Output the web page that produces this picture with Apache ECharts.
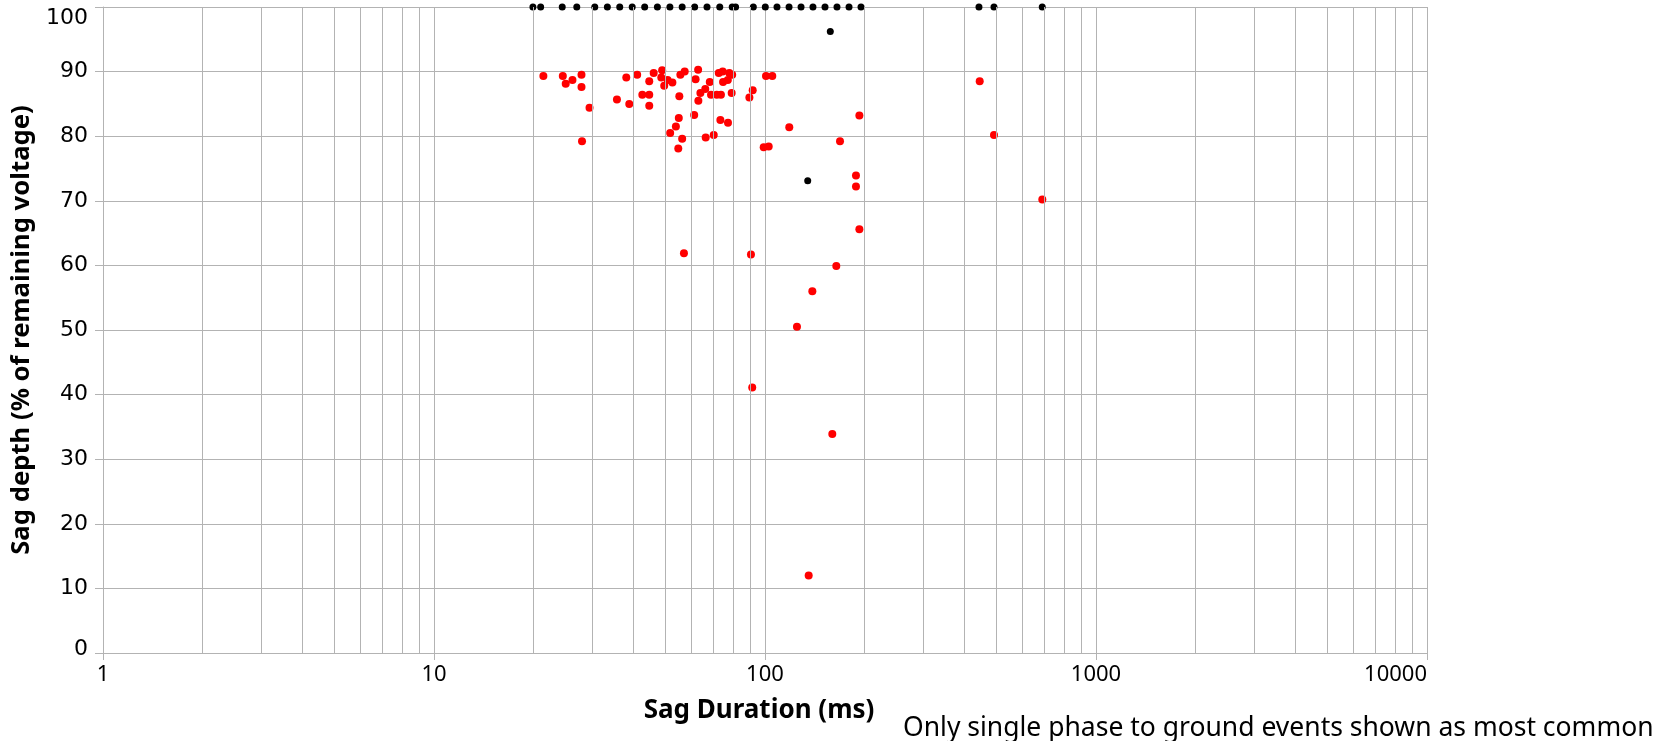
<!DOCTYPE html>
<html>
<head>
<meta charset="utf-8">
<script src="https://cdn.jsdelivr.net/npm/echarts/dist/echarts.min.js"></script>
<style>
  html, body { margin: 0; padding: 0; background: #fff; }
  #chart { width: 1675px; height: 741px; }
</style>
</head>
<body>
<div id="chart"></div>
<script>
// ---- Data ----
// Red events: sag duration (ms) and sag depth (% remaining voltage)
const redDuration = [
  21.4, 24.5, 25.0, 26.2, 27.9, 27.9, 29.5, 28.0, 35.7, 38.1,
  38.9, 41.1, 42.6, 44.7, 44.7, 44.7, 46.1, 48.9, 48.6, 49.6,
  50.8, 52.5, 55.1, 55.5, 57.2, 54.9, 53.8, 51.7, 56.2, 54.7,
  62.8, 61.7, 68.1, 66.0, 63.8, 62.9, 61.1, 66.2, 70.0, 72.5,
  74.5, 78.0, 79.6, 77.2, 74.7, 68.7, 71.5, 73.6, 79.3, 73.3,
  77.3, 91.8, 89.7, 100.7, 105.2, 118.4, 99.1, 102.6, 168.5, 192.8,
  445.3, 491.8, 688.3, 188.3, 188.3, 192.8, 56.9, 90.7, 164.2, 139.0,
  124.9, 91.5, 159.7, 135.5
];
const redDepth = [
  89.3, 89.3, 88.1, 88.7, 89.5, 87.6, 84.4, 79.2, 85.7, 89.1,
  85.0, 89.5, 86.4, 86.4, 88.5, 84.7, 89.8, 90.2, 89.1, 87.8,
  88.7, 88.3, 86.2, 89.5, 90.0, 82.8, 81.5, 80.5, 79.6, 78.1,
  90.3, 88.8, 88.4, 87.3, 86.7, 85.5, 83.3, 79.8, 80.2, 89.8,
  90.0, 89.8, 89.5, 88.7, 88.4, 86.4, 86.4, 86.4, 86.7, 82.5,
  82.1, 87.1, 86.0, 89.3, 89.3, 81.4, 78.3, 78.4, 79.2, 83.2,
  88.5, 80.2, 70.2, 73.9, 72.2, 65.6, 61.9, 61.7, 59.9, 56.0,
  50.5, 41.1, 33.9, 12.0
];
// Black events
const blackDuration = [
  19.9, 21.0, 24.4, 27.0, 30.6, 33.4, 36.4, 39.7, 43.3, 47.3,
  51.6, 56.2, 61.3, 66.8, 73.0, 79.6, 81.5, 92.2, 100.2, 108.7,
  118.2, 128.5, 139.6, 151.8, 165.0, 179.4, 195.0, 443, 491.8, 688,
  157.5, 134.6
];
const blackDepth = [
  100, 100, 100, 100, 100, 100, 100, 100, 100, 100,
  100, 100, 100, 100, 100, 100, 100, 100, 100, 100,
  100, 100, 100, 100, 100, 100, 100, 100, 100, 100,
  96.2, 73.1
];
// Axis ticks
const xMin = 1, xMax = 10000;
const yMin = 0, yMax = 100, yStep = 10;
const xMinorGrid = [2,3,4,5,6,7,8,9, 20,30,40,50,60,70,80,90,
                    200,300,400,500,600,700,800,900,
                    2000,3000,4000,5000,6000,7000,8000,9000];
const xTitle = 'Sag Duration (ms)';
const yTitle = 'Sag depth (% of remaining voltage)';
const footnote = 'Only single phase to ground events shown as most common';

// ---- Build ----
const redData = redDuration.map((d, i) => [d, redDepth[i]]);
const blackData = blackDuration.map((d, i) => [d, blackDepth[i]]);
const gridColor = '#b3b3b3';

const chart = echarts.init(document.getElementById('chart'), null, { renderer: 'canvas' });
chart.setOption({
  animation: false,
  backgroundColor: '#ffffff',
  title: {
    text: footnote,
    left: 903,
    top: 715,
    textStyle: { fontFamily: 'Noto Sans', fontSize: 26.5, fontWeight: 'normal', color: '#000' },
    padding: 0
  },
  grid: { left: 103, right: 248, top: 7, bottom: 88, containLabel: false },
  xAxis: {
    type: 'log',
    logBase: 10,
    min: xMin,
    max: xMax,
    name: xTitle,
    nameLocation: 'middle',
    nameGap: 45,
    nameTextStyle: { fontFamily: 'Noto Sans', fontSize: 26, fontWeight: 'bold', color: '#000', padding: [0, 12, 0, 0] },
    axisLine: { show: true, lineStyle: { color: gridColor, width: 1 } },
    axisTick: { show: true, length: 7, lineStyle: { color: gridColor } },
    axisLabel: {
      fontFamily: 'Noto Sans', fontSize: 22, color: '#000', margin: 11,
      alignMaxLabel: 'right',
      formatter: function (v) { return String(v); }
    },
    splitLine: { show: true, lineStyle: { color: gridColor, width: 1 } },
    minorTick: { show: false },
    minorSplitLine: { show: false }
  },
  yAxis: {
    type: 'value',
    min: yMin,
    max: yMax,
    interval: yStep,
    name: yTitle,
    nameLocation: 'middle',
    nameRotate: 90,
    nameGap: 65,
    nameTextStyle: { fontFamily: 'Noto Sans', fontSize: 25.7, fontWeight: 'bold', color: '#000' },
    axisLine: { show: true, lineStyle: { color: gridColor, width: 1 } },
    axisTick: { show: true, length: 8, lineStyle: { color: gridColor } },
    axisLabel: {
      fontFamily: 'DejaVu Sans', fontSize: 22, color: '#000', margin: 15,
      formatter: function (v) { return v === yMax ? '{t|' + v + '}' : (v === yMin ? '{b|' + v + '}' : String(v)); },
      rich: {
        t: { fontFamily: 'DejaVu Sans', fontSize: 22, color: '#000', padding: [22, 0, 0, 0] },
        b: { fontFamily: 'DejaVu Sans', fontSize: 22, color: '#000', padding: [0, 0, 8, 0] }
      }
    },
    splitLine: { show: true, lineStyle: { color: gridColor, width: 1 } }
  },
  series: [
    {
      name: 'minor-grid',
      type: 'scatter',
      data: [],
      silent: true,
      z: 1,
      markLine: {
        silent: true,
        symbol: ['none', 'none'],
        label: { show: false },
        lineStyle: { color: gridColor, width: 1, type: 'solid' },
        emphasis: { disabled: true },
        data: xMinorGrid.map(v => ({ xAxis: v }))
      }
    },
    {
      name: 'Other events',
      type: 'scatter',
      data: blackData,
      symbol: 'circle',
      symbolSize: 7,
      clip: false,
      itemStyle: { color: '#000000', opacity: 1 },
      z: 3
    },
    {
      name: 'Single phase to ground',
      type: 'scatter',
      data: redData,
      symbol: 'circle',
      symbolSize: 8,
      clip: false,
      itemStyle: { color: '#ff0000', opacity: 1 },
      z: 4
    }
  ]
});
</script>
</body>
</html>
